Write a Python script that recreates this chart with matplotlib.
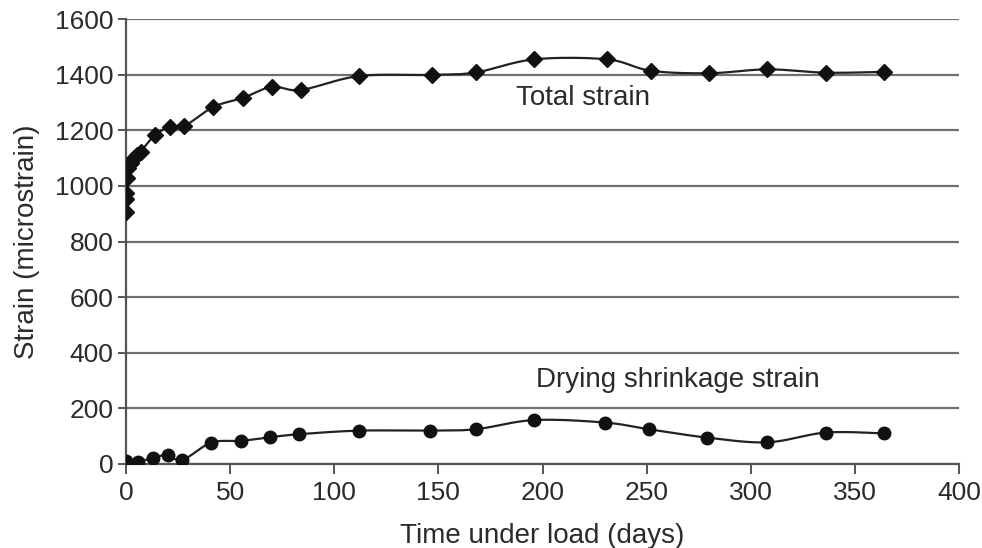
import numpy as np
import matplotlib.pyplot as plt

plt.rcParams['font.family'] = ['Liberation Sans', 'DejaVu Sans']

# total strain readings (days, microstrain)
days_total = [0, 0.1, 0.2, 0.5, 1, 2.5, 4, 5.5, 7, 14, 21, 28, 42, 56, 70, 84,
              112, 147, 168, 196, 231, 252, 280, 308, 336, 364]
total_strain = [905, 953, 975, 1028, 1064, 1082, 1100, 1111, 1123, 1183, 1212, 1215,
                1284, 1316, 1356, 1345, 1395, 1399, 1408, 1455, 1455, 1414, 1405,
                1419, 1407, 1410]

# drying shrinkage readings
days_shrink = [0, 6, 13, 20, 27, 41, 55, 69, 83, 112, 146, 168, 196, 230, 251,
               279, 308, 336, 364]
shrink_strain = [12, 8, 23, 32, 14, 77, 83, 96, 107, 120, 120, 125, 158, 149, 125,
                 95, 78, 113, 110]

x_ticks = np.arange(0, 401, 50)
y_ticks = np.arange(0, 1601, 200)
txt = '#2b2b2b'


def smooth_line(x, y, sx, sy, n=20):
    # Bezier segments with Catmull-Rom control points, computed in scaled
    # units so the curve bends the way it looks on screen
    p = np.column_stack([np.asarray(x, float) * sx, np.asarray(y, float) * sy])
    p = np.vstack([p[0], p, p[-1]])
    out = []
    t = np.linspace(0, 1, n)[:, None]
    for i in range(1, len(p) - 2):
        p0, p1, p2, p3 = p[i - 1], p[i], p[i + 1], p[i + 2]
        c1 = p1 + (p2 - p0) / 6
        c2 = p2 - (p3 - p1) / 6
        seg = ((1 - t) ** 3) * p1 + 3 * ((1 - t) ** 2) * t * c1 \
            + 3 * (1 - t) * t ** 2 * c2 + t ** 3 * p2
        out.append(seg)
    out = np.vstack(out)
    return out[:, 0] / sx, out[:, 1] / sy


fig = plt.figure(figsize=(9.82, 5.48), dpi=100)
ax = fig.add_axes([0.1283, 0.1533, 0.8483, 0.812])

sx, sy = 833 / 400, 445 / 1600
lx, ly = smooth_line(days_total, total_strain, sx, sy)
ax.plot(lx, ly, color='#222222', lw=1.6, zorder=3)
ax.plot(days_total, total_strain, ls='none', marker='D', ms=8.5,
        color='#111111', zorder=4)

lx, ly = smooth_line(days_shrink, shrink_strain, sx, sy)
ax.plot(lx, ly, color='#222222', lw=1.6, zorder=3)
ax.plot(days_shrink, shrink_strain, ls='none', marker='o', ms=9,
        color='#111111', zorder=4)

ax.set_xlim(0, 400)
ax.set_ylim(0, 1600)
ax.set_xticks(x_ticks)
ax.set_yticks(y_ticks)
ax.yaxis.grid(True, color='#707070', lw=1.6)
ax.set_axisbelow(True)
for s in ['top', 'right']:
    ax.spines[s].set_visible(False)
for s in ['left', 'bottom']:
    ax.spines[s].set_color('#555555')
    ax.spines[s].set_linewidth(1.6)
ax.tick_params(axis='x', length=7, width=1.4, color='#555555', labelsize=19,
               labelcolor=txt, pad=5)
ax.tick_params(axis='y', length=6, width=1.4, color='#555555', labelsize=19,
               labelcolor=txt, pad=3)
ax.set_xlabel('Time under load (days)', fontsize=20, color=txt, labelpad=13)
ax.set_ylabel('Strain (microstrain)', fontsize=20, color=txt, labelpad=11)

fig.text(583 / 982, 1 - 98 / 548, 'Total strain', ha='center', va='center',
         fontsize=20, color=txt)
fig.text(678 / 982, 1 - 380 / 548, 'Drying shrinkage strain', ha='center',
         va='center', fontsize=20, color=txt)

fig.savefig('out.png', dpi=100)
